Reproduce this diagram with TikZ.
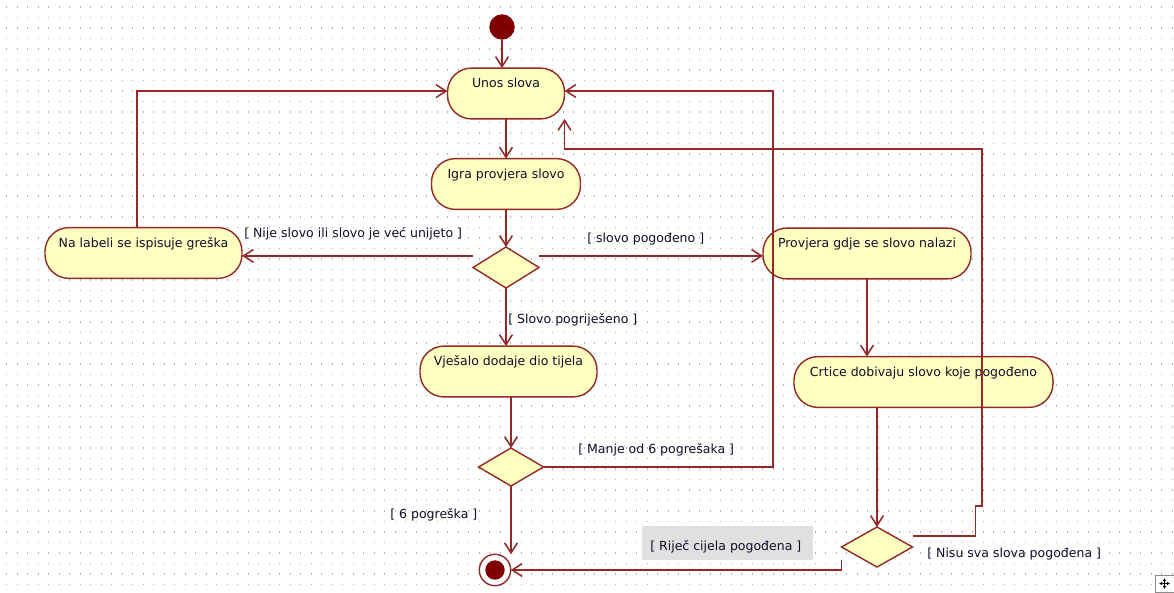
\documentclass[tikz,border=0pt]{standalone}
\usepackage{fontspec}
\setmainfont{DejaVu Sans}
\usetikzlibrary{arrows.meta,shapes.geometric}
\definecolor{umlline}{RGB}{150,40,40}
\definecolor{umldark}{RGB}{128,0,0}
\definecolor{umlfill}{RGB}{255,255,194}
\definecolor{umltext}{RGB}{15,15,40}
\tikzset{%
  act/.style={draw=umlline,fill=umlfill,line width=1pt,rounded corners=0.6cm,
    minimum height=1.27cm,inner sep=0.1cm,text height=0.39cm,text depth=0.68cm,
    outer sep=0pt,text=umltext},
  decision/.style={diamond,draw=umlline,fill=umlfill,line width=1pt,
    inner sep=0pt,outer sep=0pt},
  flow/.style={draw=umlline,line width=1.1pt,
    -{Straight Barb[length=2.5mm,width=3.2mm]}},
  guard/.style={inner sep=0pt,anchor=base west,text=umltext},
  griddot/.style={black!30,line width=0.03cm,dash pattern=on 0.03cm off 0.2325cm}
}

\begin{document}
\begin{tikzpicture}[x=0.025cm,y=-0.025cm,font=\fontsize{8.9pt}{10pt}\selectfont]
    \useasboundingbox (0,0) rectangle (1174,592);
    \fill[white] (0,0) rectangle (1174,592);
    \foreach \y in {7,17.5,...,592}
      \draw[griddot] (6,\y) -- (1174,\y);
    %
    \node[circle,fill=umldark,minimum size=0.635cm,inner sep=0pt] (startdot)
      at (502,27) {};
    \node[act,minimum width=2.925cm] (unos) at (506,93.5) {Unos slova};
    \node[act,minimum width=3.725cm] (igra) at (506,184) {Igra provjera slovo};
    \node[act,minimum width=4.925cm] (labela) at (143.5,253)
      {Na labeli se ispisuje greška};
    \node[decision,minimum width=1.65cm,minimum height=1.025cm] (dec1)
      at (506,267.5) {};
    \node[act,minimum width=5.2cm] (provjera) at (867,253.5)
      {Provjera gdje se slovo nalazi};
    \node[act,minimum width=4.425cm] (vjesalo) at (508.5,371.5)
      {Vješalo dodaje dio tijela};
    \node[decision,minimum width=1.625cm,minimum height=0.95cm] (dec2)
      at (511,467) {};
    \node[act,minimum width=6.475cm] (crtice) at (923.5,382)
      {Crtice dobivaju slovo koje pogođeno};
    \node[decision,minimum width=1.775cm,minimum height=1cm] (dec3)
      at (877,547) {};
    \node[circle,draw=umlline,fill=white,line width=1pt,minimum size=0.785cm,
      inner sep=0pt,outer sep=0pt] (enddot) at (495,570) {};
    \fill[umldark] (enddot) circle (0.2425cm);
    %
    \fill[black!12] (642,526) rectangle (813,560);
    \node[guard] (gWrong) at (244,237) {[ Nije slovo ili slovo je već unijeto ]};
    \node[guard] (gHit) at (587,242) {[ slovo pogođeno ]};
    \node[guard] (gMiss) at (508,323) {[ Slovo pogriješeno ]};
    \node[guard] (gLess) at (578,453) {[ Manje od 6 pogrešaka ]};
    \node[guard] (gSix) at (390,518) {[ 6 pogreška ]};
    \node[guard] (gWord) at (650,550) {[ Riječ cijela pogođena ]};
    \node[guard] (gNot) at (927,557) {[ Nisu sva slova pogođena ]};
    %
    \coordinate (loopA) at (773,91);
    \coordinate (loopB) at (982,149);
    \draw[flow] (startdot) -- (startdot |- unos.north);
    \draw[flow] (unos) -- (igra);
    \draw[flow] (igra) -- (dec1);
    \draw[flow] ([yshift=2.9mm]dec1.west) -- ([yshift=2.9mm]dec1.west -| labela.east);
    \draw[flow] ([yshift=2.9mm]dec1.east) -- ([yshift=2.9mm]dec1.east -| provjera.west);
    \draw[flow] ([xshift=-1.6mm]labela.north) |- ([yshift=0.6mm]unos.west);
    \draw[flow] (dec1.south) -- (dec1.south |- vjesalo.north);
    \draw[flow] (dec2.north |- vjesalo.south) -- (dec2.north);
    \draw[flow] (dec2.east) -| (loopA) -- (loopA -| unos.east);
    \draw[flow] (dec2.south) -- (dec2.south |- enddot.north);
    \draw[flow] (provjera) -- (provjera |- crtice.north);
    \draw[flow] (dec3.north |- crtice.south) -- (dec3.north);
    \draw[flow] ([yshift=-3.25mm]dec3.west) |- (enddot.east);
    \draw[flow] ([yshift=2.75mm]dec3.east) -- ++(63,0) -- ++(0,-30) -| (loopB)
      -| (unos.south east);
    %
    \draw[black!45,fill=white] (1155,575) rectangle (1174,592);
    \draw[line width=0.5pt,{Latex[length=0.8mm,width=0.9mm]}-{Latex[length=0.8mm,width=0.9mm]}]
      (1159,583.5) -- (1170,583.5);
    \draw[line width=0.5pt,{Latex[length=0.8mm,width=0.9mm]}-{Latex[length=0.8mm,width=0.9mm]}]
      (1164.5,578) -- (1164.5,589);
  \end{tikzpicture}
\end{document}
